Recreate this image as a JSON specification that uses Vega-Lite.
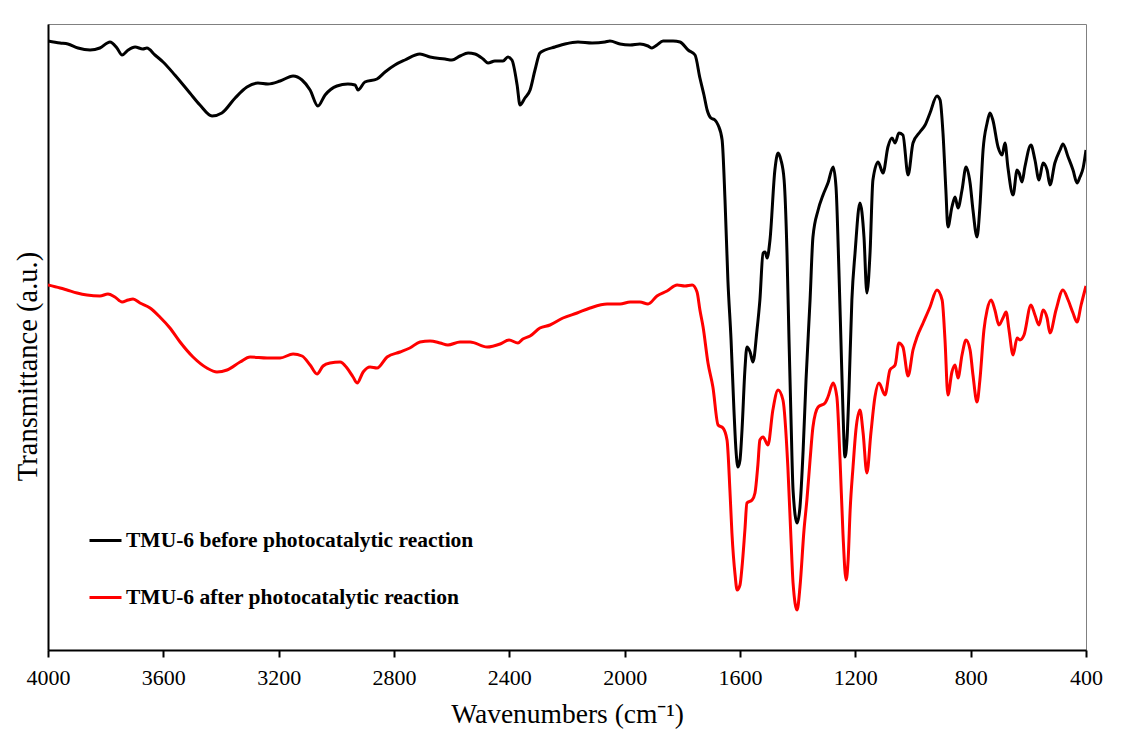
{
  "$schema": "https://vega.github.io/schema/vega-lite/v6.json",
  "width": 1038,
  "height": 626,
  "autosize": {"type": "none"},
  "padding": {"left": 48, "top": 24, "right": 44, "bottom": 94},
  "background": "white",
  "config": {
    "view": {"stroke": "#808080", "strokeWidth": 1},
    "font": "Liberation Serif"
  },
  "data": {
    "values": [
      {"s":"before","w":4000,"t":609},{"s":"before","w":3958,"t":607},{"s":"before","w":3931,"t":606},{"s":"before","w":3896,"t":602},{"s":"before","w":3854,"t":600},{"s":"before","w":3820,"t":602},{"s":"before","w":3785,"t":608},{"s":"before","w":3761,"t":602},{"s":"before","w":3743,"t":595},{"s":"before","w":3722,"t":600},{"s":"before","w":3698,"t":603},{"s":"before","w":3671,"t":601},{"s":"before","w":3657,"t":602},{"s":"before","w":3629,"t":595},{"s":"before","w":3601,"t":588},{"s":"before","w":3560,"t":575},{"s":"before","w":3508,"t":557},{"s":"before","w":3473,"t":545},{"s":"before","w":3431,"t":534},{"s":"before","w":3397,"t":537},{"s":"before","w":3351,"t":552},{"s":"before","w":3310,"t":563},{"s":"before","w":3272,"t":567},{"s":"before","w":3237,"t":566},{"s":"before","w":3195,"t":569},{"s":"before","w":3150,"t":574},{"s":"before","w":3119,"t":570},{"s":"before","w":3091,"t":560},{"s":"before","w":3064,"t":544},{"s":"before","w":3039,"t":555},{"s":"before","w":2998,"t":564},{"s":"before","w":2960,"t":566},{"s":"before","w":2935,"t":565},{"s":"before","w":2925,"t":560},{"s":"before","w":2901,"t":568},{"s":"before","w":2859,"t":571},{"s":"before","w":2831,"t":578},{"s":"before","w":2797,"t":585},{"s":"before","w":2762,"t":590},{"s":"before","w":2710,"t":596},{"s":"before","w":2675,"t":593},{"s":"before","w":2623,"t":591},{"s":"before","w":2599,"t":590},{"s":"before","w":2571,"t":594},{"s":"before","w":2543,"t":597},{"s":"before","w":2519,"t":596},{"s":"before","w":2491,"t":591},{"s":"before","w":2474,"t":587},{"s":"before","w":2450,"t":589},{"s":"before","w":2422,"t":589},{"s":"before","w":2405,"t":593},{"s":"before","w":2391,"t":590},{"s":"before","w":2373,"t":565},{"s":"before","w":2363,"t":545},{"s":"before","w":2346,"t":552},{"s":"before","w":2328,"t":560},{"s":"before","w":2311,"t":580},{"s":"before","w":2294,"t":597},{"s":"before","w":2276,"t":600},{"s":"before","w":2242,"t":603},{"s":"before","w":2207,"t":606},{"s":"before","w":2162,"t":608},{"s":"before","w":2113,"t":607},{"s":"before","w":2068,"t":608},{"s":"before","w":2051,"t":609},{"s":"before","w":2016,"t":606},{"s":"before","w":1981,"t":605},{"s":"before","w":1947,"t":606},{"s":"before","w":1919,"t":604},{"s":"before","w":1905,"t":602},{"s":"before","w":1888,"t":605},{"s":"before","w":1867,"t":609},{"s":"before","w":1832,"t":609},{"s":"before","w":1808,"t":608},{"s":"before","w":1780,"t":600},{"s":"before","w":1756,"t":595},{"s":"before","w":1739,"t":572},{"s":"before","w":1725,"t":555},{"s":"before","w":1714,"t":540},{"s":"before","w":1701,"t":532},{"s":"before","w":1687,"t":530},{"s":"before","w":1676,"t":525},{"s":"before","w":1662,"t":510},{"s":"before","w":1652,"t":450},{"s":"before","w":1642,"t":370},{"s":"before","w":1631,"t":310},{"s":"before","w":1621,"t":240},{"s":"before","w":1614,"t":200},{"s":"before","w":1607,"t":183},{"s":"before","w":1600,"t":190},{"s":"before","w":1593,"t":220},{"s":"before","w":1583,"t":280},{"s":"before","w":1576,"t":303},{"s":"before","w":1565,"t":298},{"s":"before","w":1555,"t":288},{"s":"before","w":1541,"t":320},{"s":"before","w":1531,"t":350},{"s":"before","w":1520,"t":397},{"s":"before","w":1513,"t":398},{"s":"before","w":1506,"t":392},{"s":"before","w":1496,"t":410},{"s":"before","w":1479,"t":480},{"s":"before","w":1468,"t":497},{"s":"before","w":1458,"t":490},{"s":"before","w":1447,"t":470},{"s":"before","w":1437,"t":397},{"s":"before","w":1430,"t":310},{"s":"before","w":1423,"t":230},{"s":"before","w":1416,"t":160},{"s":"before","w":1402,"t":127},{"s":"before","w":1392,"t":143},{"s":"before","w":1381,"t":200},{"s":"before","w":1371,"t":270},{"s":"before","w":1357,"t":350},{"s":"before","w":1347,"t":413},{"s":"before","w":1329,"t":440},{"s":"before","w":1312,"t":455},{"s":"before","w":1295,"t":467},{"s":"before","w":1277,"t":483},{"s":"before","w":1267,"t":463},{"s":"before","w":1257,"t":380},{"s":"before","w":1250,"t":310},{"s":"before","w":1243,"t":240},{"s":"before","w":1236,"t":193},{"s":"before","w":1229,"t":210},{"s":"before","w":1222,"t":260},{"s":"before","w":1212,"t":350},{"s":"before","w":1201,"t":397},{"s":"before","w":1184,"t":447},{"s":"before","w":1170,"t":413},{"s":"before","w":1160,"t":357},{"s":"before","w":1149,"t":397},{"s":"before","w":1139,"t":470},{"s":"before","w":1121,"t":488},{"s":"before","w":1104,"t":477},{"s":"before","w":1087,"t":503},{"s":"before","w":1073,"t":512},{"s":"before","w":1062,"t":507},{"s":"before","w":1049,"t":517},{"s":"before","w":1035,"t":515},{"s":"before","w":1017,"t":475},{"s":"before","w":1000,"t":507},{"s":"before","w":976,"t":518},{"s":"before","w":958,"t":525},{"s":"before","w":941,"t":537},{"s":"before","w":917,"t":554},{"s":"before","w":906,"t":550},{"s":"before","w":896,"t":517},{"s":"before","w":886,"t":460},{"s":"before","w":879,"t":423},{"s":"before","w":865,"t":443},{"s":"before","w":854,"t":453},{"s":"before","w":844,"t":442},{"s":"before","w":830,"t":460},{"s":"before","w":816,"t":483},{"s":"before","w":802,"t":467},{"s":"before","w":792,"t":440},{"s":"before","w":778,"t":413},{"s":"before","w":768,"t":443},{"s":"before","w":757,"t":500},{"s":"before","w":743,"t":527},{"s":"before","w":733,"t":537},{"s":"before","w":723,"t":530},{"s":"before","w":705,"t":503},{"s":"before","w":691,"t":495},{"s":"before","w":681,"t":507},{"s":"before","w":671,"t":483},{"s":"before","w":653,"t":455},{"s":"before","w":639,"t":480},{"s":"before","w":632,"t":477},{"s":"before","w":622,"t":468},{"s":"before","w":612,"t":483},{"s":"before","w":591,"t":505},{"s":"before","w":577,"t":490},{"s":"before","w":563,"t":470},{"s":"before","w":549,"t":487},{"s":"before","w":535,"t":480},{"s":"before","w":525,"t":465},{"s":"before","w":508,"t":487},{"s":"before","w":490,"t":500},{"s":"before","w":480,"t":506},{"s":"before","w":462,"t":493},{"s":"before","w":445,"t":480},{"s":"before","w":431,"t":467},{"s":"before","w":421,"t":473},{"s":"before","w":410,"t":482},{"s":"before","w":400,"t":500},
      {"s":"after","w":4000,"t":365},{"s":"after","w":3958,"t":362},{"s":"after","w":3934,"t":360},{"s":"after","w":3899,"t":357},{"s":"after","w":3865,"t":355},{"s":"after","w":3820,"t":354},{"s":"after","w":3792,"t":356},{"s":"after","w":3768,"t":353},{"s":"after","w":3743,"t":348},{"s":"after","w":3722,"t":350},{"s":"after","w":3705,"t":351},{"s":"after","w":3681,"t":347},{"s":"after","w":3646,"t":342},{"s":"after","w":3612,"t":333},{"s":"after","w":3577,"t":322},{"s":"after","w":3542,"t":308},{"s":"after","w":3497,"t":293},{"s":"after","w":3449,"t":282},{"s":"after","w":3414,"t":278},{"s":"after","w":3379,"t":280},{"s":"after","w":3334,"t":288},{"s":"after","w":3299,"t":293},{"s":"after","w":3240,"t":292},{"s":"after","w":3195,"t":292},{"s":"after","w":3150,"t":296},{"s":"after","w":3119,"t":294},{"s":"after","w":3091,"t":285},{"s":"after","w":3067,"t":276},{"s":"after","w":3046,"t":284},{"s":"after","w":3022,"t":287},{"s":"after","w":2987,"t":288},{"s":"after","w":2963,"t":282},{"s":"after","w":2942,"t":273},{"s":"after","w":2928,"t":267},{"s":"after","w":2907,"t":278},{"s":"after","w":2883,"t":283},{"s":"after","w":2859,"t":282},{"s":"after","w":2824,"t":293},{"s":"after","w":2779,"t":298},{"s":"after","w":2745,"t":302},{"s":"after","w":2710,"t":308},{"s":"after","w":2675,"t":309},{"s":"after","w":2640,"t":307},{"s":"after","w":2613,"t":305},{"s":"after","w":2571,"t":308},{"s":"after","w":2536,"t":308},{"s":"after","w":2477,"t":303},{"s":"after","w":2432,"t":306},{"s":"after","w":2401,"t":310},{"s":"after","w":2370,"t":307},{"s":"after","w":2353,"t":311},{"s":"after","w":2328,"t":314},{"s":"after","w":2294,"t":322},{"s":"after","w":2259,"t":325},{"s":"after","w":2214,"t":332},{"s":"after","w":2165,"t":337},{"s":"after","w":2120,"t":342},{"s":"after","w":2061,"t":346},{"s":"after","w":2016,"t":346},{"s":"after","w":1981,"t":348},{"s":"after","w":1947,"t":348},{"s":"after","w":1919,"t":346},{"s":"after","w":1888,"t":354},{"s":"after","w":1853,"t":359},{"s":"after","w":1818,"t":365},{"s":"after","w":1791,"t":364},{"s":"after","w":1766,"t":365},{"s":"after","w":1749,"t":358},{"s":"after","w":1739,"t":340},{"s":"after","w":1728,"t":323},{"s":"after","w":1711,"t":287},{"s":"after","w":1694,"t":263},{"s":"after","w":1676,"t":225},{"s":"after","w":1659,"t":222},{"s":"after","w":1645,"t":210},{"s":"after","w":1635,"t":160},{"s":"after","w":1628,"t":117},{"s":"after","w":1617,"t":75},{"s":"after","w":1610,"t":60},{"s":"after","w":1600,"t":65},{"s":"after","w":1593,"t":83},{"s":"after","w":1583,"t":120},{"s":"after","w":1576,"t":147},{"s":"after","w":1558,"t":150},{"s":"after","w":1548,"t":157},{"s":"after","w":1538,"t":185},{"s":"after","w":1531,"t":210},{"s":"after","w":1520,"t":213},{"s":"after","w":1503,"t":205},{"s":"after","w":1486,"t":240},{"s":"after","w":1468,"t":260},{"s":"after","w":1451,"t":250},{"s":"after","w":1434,"t":183},{"s":"after","w":1423,"t":110},{"s":"after","w":1416,"t":67},{"s":"after","w":1402,"t":40},{"s":"after","w":1392,"t":63},{"s":"after","w":1378,"t":120},{"s":"after","w":1368,"t":150},{"s":"after","w":1357,"t":190},{"s":"after","w":1347,"t":223},{"s":"after","w":1329,"t":243},{"s":"after","w":1305,"t":247},{"s":"after","w":1295,"t":253},{"s":"after","w":1277,"t":267},{"s":"after","w":1264,"t":253},{"s":"after","w":1253,"t":190},{"s":"after","w":1243,"t":117},{"s":"after","w":1232,"t":70},{"s":"after","w":1225,"t":90},{"s":"after","w":1218,"t":140},{"s":"after","w":1208,"t":183},{"s":"after","w":1198,"t":220},{"s":"after","w":1184,"t":240},{"s":"after","w":1173,"t":217},{"s":"after","w":1160,"t":177},{"s":"after","w":1146,"t":217},{"s":"after","w":1132,"t":253},{"s":"after","w":1118,"t":267},{"s":"after","w":1097,"t":255},{"s":"after","w":1080,"t":280},{"s":"after","w":1062,"t":285},{"s":"after","w":1049,"t":307},{"s":"after","w":1035,"t":303},{"s":"after","w":1017,"t":274},{"s":"after","w":1000,"t":300},{"s":"after","w":986,"t":313},{"s":"after","w":965,"t":327},{"s":"after","w":941,"t":343},{"s":"after","w":917,"t":360},{"s":"after","w":899,"t":350},{"s":"after","w":889,"t":310},{"s":"after","w":879,"t":255},{"s":"after","w":865,"t":278},{"s":"after","w":854,"t":285},{"s":"after","w":844,"t":272},{"s":"after","w":830,"t":295},{"s":"after","w":816,"t":310},{"s":"after","w":802,"t":300},{"s":"after","w":792,"t":275},{"s":"after","w":778,"t":248},{"s":"after","w":768,"t":270},{"s":"after","w":754,"t":320},{"s":"after","w":743,"t":340},{"s":"after","w":729,"t":350},{"s":"after","w":716,"t":340},{"s":"after","w":702,"t":325},{"s":"after","w":688,"t":332},{"s":"after","w":677,"t":338},{"s":"after","w":667,"t":320},{"s":"after","w":653,"t":295},{"s":"after","w":639,"t":312},{"s":"after","w":629,"t":310},{"s":"after","w":615,"t":315},{"s":"after","w":591,"t":345},{"s":"after","w":577,"t":335},{"s":"after","w":563,"t":325},{"s":"after","w":549,"t":340},{"s":"after","w":535,"t":332},{"s":"after","w":525,"t":317},{"s":"after","w":504,"t":340},{"s":"after","w":480,"t":360},{"s":"after","w":462,"t":350},{"s":"after","w":445,"t":337},{"s":"after","w":431,"t":328},{"s":"after","w":417,"t":345},{"s":"after","w":400,"t":364}
    ]
  },
  "mark": {"type": "line", "interpolate": "monotone", "strokeWidth": 3, "clip": true},
  "encoding": {
    "x": {
      "field": "w",
      "type": "quantitative",
      "scale": {"domain": [4000, 400], "nice": false, "zero": false},
      "axis": {
        "values": [4000, 3600, 3200, 2800, 2400, 2000, 1600, 1200, 800, 400],
        "format": "d",
        "grid": false,
        "labelFlush": false,
        "labelFont": "Liberation Serif",
        "labelFontSize": 22,
        "labelColor": "black",
        "labelPadding": 10,
        "tickColor": "black",
        "tickSize": 7,
        "tickWidth": 2,
        "domainColor": "black",
        "domainWidth": 2,
        "title": "Wavenumbers (cm⁻¹)",
        "titleFont": "Liberation Serif",
        "titleFontSize": 27.5,
        "titleFontWeight": "normal",
        "titleColor": "black",
        "titlePadding": 12
      }
    },
    "y": {
      "field": "t",
      "type": "quantitative",
      "scale": {"domain": [0, 626], "nice": false},
      "axis": {
        "grid": false,
        "ticks": false,
        "labels": false,
        "domainColor": "black",
        "domainWidth": 2,
        "title": "Transmittance (a.u.)",
        "titleFont": "Liberation Serif",
        "titleFontSize": 28.5,
        "titleFontWeight": "normal",
        "titleColor": "black",
        "titlePadding": 6,
        "titleY": 342
      }
    },
    "color": {
      "field": "s",
      "type": "nominal",
      "scale": {"domain": ["before", "after"], "range": ["#000000", "#ff0000"]},
      "legend": {
        "title": null,
        "orient": "none",
        "legendX": 40,
        "legendY": 499,
        "padding": 0,
        "symbolType": "stroke",
        "symbolSize": 1024,
        "symbolStrokeWidth": 3,
        "labelOffset": 3,
        "rowPadding": 29,
        "labelFont": "Liberation Serif",
        "labelFontWeight": "bold",
        "labelFontSize": 21.5,
        "labelColor": "black",
        "labelLimit": 700,
        "labelExpr": "datum.label == 'before' ? 'TMU-6 before photocatalytic reaction' : 'TMU-6 after photocatalytic reaction'"
      }
    }
  }
}
